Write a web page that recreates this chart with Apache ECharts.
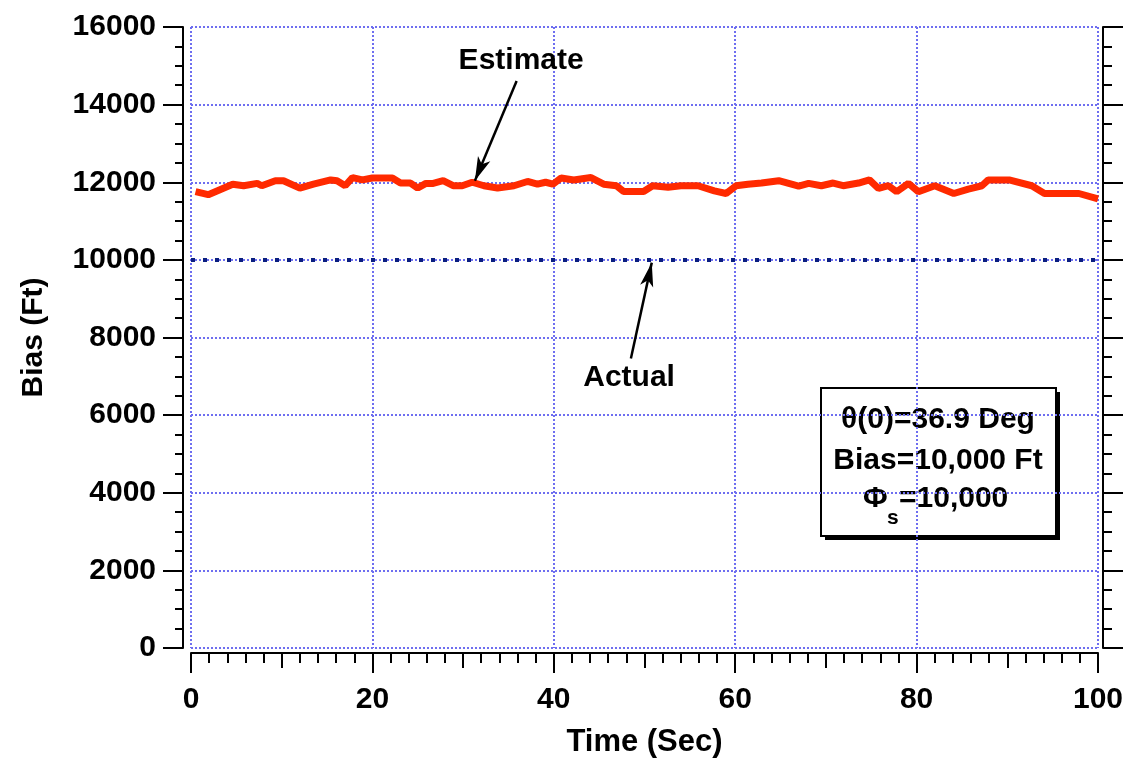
<!DOCTYPE html>
<html>
<head>
<meta charset="utf-8">
<script src="https://cdn.jsdelivr.net/npm/echarts@6/dist/echarts.min.js"></script>
<style>
  html, body { margin: 0; padding: 0; background: #fff; }
  #main { width: 1127px; height: 759px; }
</style>
</head>
<body>
<div id="main"></div>
<script>
// estimate curve
var estTime = [0.5, 1.9, 4.6, 5.8, 7.3, 7.8, 9.3, 10.2, 12, 13.5, 15.4, 16.1, 17, 17.8, 18.9, 20, 22.2, 23.1, 24.2, 25,
    25.9, 26.7, 27.8, 28.9, 29.9, 31, 32.3, 33.8, 35.6, 37.1, 38.2, 39.1, 39.9, 40.8, 42.2, 44.1, 45.5, 46.9, 47.7, 49.9,
    50.9, 52.6, 54, 55.9, 57.7, 59, 60.1, 61.4, 62.9, 64.8, 67, 68.1, 69.5, 70.8, 71.9, 73.6, 74.8, 75.8, 76.9, 77.8,
    79.1, 80.2, 82, 84.1, 85.7, 87.2, 87.9, 90.2, 92.7, 94.1, 97.9, 100];
var estBias = [11760, 11680, 11950, 11910, 11970, 11910, 12040, 12040, 11850, 11950, 12060, 12040, 11910, 12120, 12060, 12110, 12110, 11980, 11980, 11850,
    11970, 11970, 12040, 11910, 11910, 12000, 11910, 11850, 11910, 12020, 11950, 12000, 11950, 12110, 12060, 12120, 11950, 11910, 11760, 11760,
    11910, 11870, 11910, 11910, 11780, 11710, 11910, 11950, 11980, 12040, 11900, 11970, 11910, 11980, 11910, 11980, 12060, 11840, 11910, 11755,
    11970, 11755, 11910, 11710, 11825, 11910, 12060, 12060, 11910, 11710, 11710, 11570];

// actual bias
var actTime = [0, 100];
var actBias = [10000, 10000];

// annotation anchors [time, bias]
var estArrow = [[35.9, 14611], [31.3, 12038]];
var actArrow = [[48.5, 7460], [50.8, 9929]];
var estLabelAt = [36.4, 15125];
var actLabelAt = [48.3, 6970];

var infoLines = ['θ(0)=36.9 Deg', 'Bias=10,000 Ft'];

function zip(a, b) {
    var out = [];
    for (var i = 0; i < a.length; i++) out.push([a[i], b[i]]);
    return out;
}

var font = 'Liberation Sans, Arial, Helvetica, sans-serif';
var gridColor = '#6e6ef0';

var myChart = echarts.init(document.getElementById('main'), null, {renderer: 'canvas'});
var option = {
    animation: false,
    backgroundColor: '#fff',
    grid: {left: 191, right: 29, top: 27, bottom: 111, outerBoundsMode: 'none', containLabel: false},
    xAxis: [
        {
            type: 'value', min: 0, max: 100, interval: 20, offset: 5,
            name: 'Time (Sec)', nameLocation: 'middle', nameGap: 74,
            nameTextStyle: {fontFamily: font, fontWeight: 'bold', fontSize: 31, color: '#000'},
            axisLine: {onZero: false, lineStyle: {color: '#000', width: 2}},
            axisTick: {length: 20, lineStyle: {color: '#000', width: 2}},
            minorTick: {show: true, splitNumber: 10, length: 10, lineStyle: {color: '#000', width: 2}},
            axisLabel: {margin: 32, fontFamily: font, fontWeight: 'bold', fontSize: 30, color: '#000'},
            splitLine: {show: true, lineStyle: {color: gridColor, width: 2, type: [2, 2]}}
        },
        {
            // half-way ticks (10, 30, ...)
            type: 'value', min: 0, max: 100, interval: 10, offset: 5, position: 'bottom',
            axisLine: {show: false, onZero: false},
            axisTick: {length: 15, lineStyle: {color: '#000', width: 2}},
            axisLabel: {show: false},
            splitLine: {show: false}
        }
    ],
    yAxis: [
        {
            type: 'value', min: 0, max: 16000, interval: 2000, offset: 8,
            name: 'Bias (Ft)', nameLocation: 'middle', nameGap: 134,
            nameTextStyle: {fontFamily: font, fontWeight: 'bold', fontSize: 30, color: '#000'},
            axisLine: {show: true, onZero: false, lineStyle: {color: '#000', width: 2}},
            axisTick: {show: true, length: 20, lineStyle: {color: '#000', width: 2}},
            minorTick: {show: true, splitNumber: 4, length: 8, lineStyle: {color: '#000', width: 2}},
            axisLabel: {margin: 27, fontFamily: font, fontWeight: 'bold', fontSize: 30, color: '#000',
                formatter: function (v) { return String(v); }},
            splitLine: {show: true, lineStyle: {color: gridColor, width: 2, type: [2, 2]}}
        },
        {
            type: 'value', min: 0, max: 16000, interval: 2000, offset: 5, position: 'right',
            axisLine: {show: true, onZero: false, lineStyle: {color: '#000', width: 2}},
            axisTick: {show: true, length: 20, lineStyle: {color: '#000', width: 2}},
            minorTick: {show: true, splitNumber: 4, length: 9, lineStyle: {color: '#000', width: 2}},
            axisLabel: {show: false},
            splitLine: {show: false}
        }
    ],
    series: [
        {
            name: 'Actual',
            type: 'line',
            data: zip(actTime, actBias),
            showSymbol: false,
            lineStyle: {color: '#0b1f80', width: 4, type: [4, 8]},
            markLine: {
                silent: true,
                label: {show: false},
                lineStyle: {color: '#000', width: 2.5, type: 'solid'},
                data: [[
                    {coord: actArrow[0], symbol: 'none'},
                    {coord: actArrow[1], symbol: 'arrow', symbolSize: [10, 24]}
                ]]
            },
            markPoint: {
                silent: true,
                symbol: 'circle', symbolSize: 1,
                itemStyle: {color: 'rgba(0,0,0,0)'},
                label: {show: true, position: 'inside', fontFamily: font, fontWeight: 'bold', fontSize: 30, color: '#000', formatter: 'Actual'},
                data: [{coord: actLabelAt}]
            }
        },
        {
            name: 'Estimate',
            type: 'line',
            data: zip(estTime, estBias),
            showSymbol: false,
            lineStyle: {color: '#ff2a00', width: 7},
            markLine: {
                silent: true,
                label: {show: false},
                lineStyle: {color: '#000', width: 2.5, type: 'solid'},
                data: [[
                    {coord: estArrow[0], symbol: 'none'},
                    {coord: estArrow[1], symbol: 'arrow', symbolSize: [10, 24]}
                ]]
            },
            markPoint: {
                silent: true,
                symbol: 'circle', symbolSize: 1,
                itemStyle: {color: 'rgba(0,0,0,0)'},
                label: {show: true, position: 'inside', fontFamily: font, fontWeight: 'bold', fontSize: 30, color: '#000', formatter: 'Estimate'},
                data: [{coord: estLabelAt}]
            }
        }
    ],
    graphic: [
        {
            type: 'group', left: 820, top: 387,
            children: [
                {type: 'rect', shape: {x: 4, y: 4, width: 235, height: 148}, style: {fill: '#000'}},
                {type: 'rect', shape: {x: 0, y: 0, width: 235, height: 148}, style: {fill: '#fff', stroke: '#000', lineWidth: 2}},
                {type: 'text', x: 117, y: 32, style: {text: infoLines[0], font: 'bold 30px ' + font, fill: '#000', align: 'center', verticalAlign: 'middle'}},
                {type: 'text', x: 117, y: 73, style: {text: infoLines[1], font: 'bold 30px ' + font, fill: '#000', align: 'center', verticalAlign: 'middle'}},
                {type: 'text', x: 42, y: 111, style: {text: 'Φ', font: 'bold 30px ' + font, fill: '#000', align: 'left', verticalAlign: 'middle'}},
                {type: 'text', x: 66, y: 130, style: {text: 's', font: 'bold 21px ' + font, fill: '#000', align: 'left', verticalAlign: 'middle'}},
                {type: 'text', x: 78, y: 111, style: {text: '=10,000', font: 'bold 30px ' + font, fill: '#000', align: 'left', verticalAlign: 'middle'}}
            ]
        }
    ]
};
myChart.setOption(option);
</script>
</body>
</html>
